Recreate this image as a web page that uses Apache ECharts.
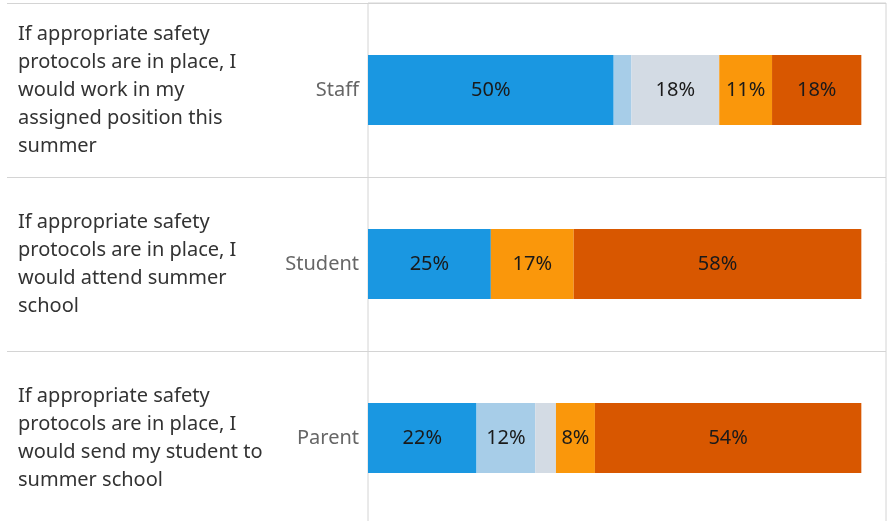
<!DOCTYPE html>
<html>
<head>
<meta charset="utf-8">
<script src="https://cdn.jsdelivr.net/npm/echarts@6/dist/echarts.min.js"></script>
<style>
  html, body { margin: 0; padding: 0; background: #fff; overflow: hidden; }
  #chart { width: 887px; height: 521px; }
</style>
</head>
<body>
<div id="chart"></div>
<script>
// rows, top to bottom
const groups = ["Staff", "Student", "Parent"];
const questions = [
  "If appropriate safety\nprotocols are in place, I\nwould work in my\nassigned position this\nsummer",
  "If appropriate safety\nprotocols are in place, I\nwould attend summer\nschool",
  "If appropriate safety\nprotocols are in place, I\nwould send my student to\nsummer school"
];

// percent of responses per answer, in stacking order
const stronglyAgree = [49.8, 24.9, 22.0];
const agree = [3.6, 0, 11.9];
const neutral = [17.8, 0, 4.2];
const disagree = [10.7, 16.8, 7.9];
const stronglyDisagree = [18.1, 58.3, 54.0];

const seriesNames = ["Strongly agree", "Agree", "Neutral", "Disagree", "Strongly disagree"];
const seriesData = [stronglyAgree, agree, neutral, disagree, stronglyDisagree];
const colors = ["#1a97e1", "#a7cde8", "#d3dbe4", "#fa970b", "#d85700"];

const lineColor = "#d4d4d4";
const font = "'Noto Sans', sans-serif";

const chart = echarts.init(document.getElementById("chart"));

const option = {
  animation: false,
  color: colors,
  grid: [
    {
      left: 368,
      right: 1,
      top: 3,
      height: 522,
      outerBoundsMode: "none",
      show: true,
      borderColor: lineColor,
      borderWidth: 1
    },
    {
      left: 7,
      width: 361,
      top: 3,
      height: 522,
      outerBoundsMode: "none"
    }
  ],
  xAxis: [
    { type: "value", gridIndex: 0, min: 0, max: 105, show: false },
    { type: "value", gridIndex: 1, min: 0, max: 1, show: false }
  ],
  yAxis: [
    {
      type: "category",
      gridIndex: 0,
      inverse: true,
      data: groups,
      axisLine: { show: false },
      axisTick: { show: false },
      splitLine: { show: true, lineStyle: { color: lineColor, width: 1 } },
      axisLabel: {
        margin: 9,
        fontSize: 20,
        fontFamily: font,
        color: "#666"
      }
    },
    {
      type: "category",
      gridIndex: 1,
      inverse: true,
      data: questions,
      axisLine: { show: false },
      axisTick: { show: false },
      splitLine: { show: true, lineStyle: { color: lineColor, width: 1 } },
      axisLabel: {
        inside: true,
        margin: 11,
        fontSize: 20,
        lineHeight: 28,
        fontFamily: font,
        color: "#333"
      }
    }
  ],
  series: seriesNames.map(function (name, i) {
    return {
      name: name,
      type: "bar",
      stack: "all",
      xAxisIndex: 0,
      yAxisIndex: 0,
      barWidth: 70,
      data: seriesData[i],
      label: {
        show: true,
        position: "inside",
        fontSize: 20,
        fontFamily: font,
        color: "#1a1a1a",
        formatter: function (p) {
          return p.value >= 5 ? Math.round(p.value) + "%" : "";
        }
      }
    };
  })
};

chart.setOption(option);
</script>
</body>
</html>
